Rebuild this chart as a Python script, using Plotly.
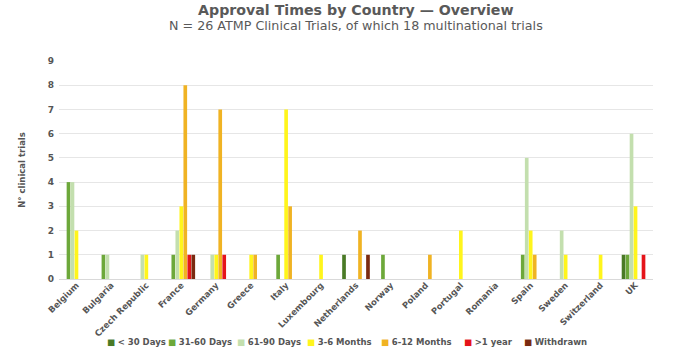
import plotly.graph_objects as go

countries = ["Belgium", "Bulgaria", "Czech Republic", "France", "Germany", "Greece", "Italy",
             "Luxembourg", "Netherlands", "Norway", "Poland", "Portugal", "Romania", "Spain",
             "Sweden", "Switzerland", "UK"]

lt30 = [0, 0, 0, 0, 0, 0, 0, 0, 1, 0, 0, 0, 0, 0, 0, 0, 1]
d31_60 = [4, 1, 0, 1, 0, 0, 1, 0, 0, 1, 0, 0, 0, 1, 0, 0, 1]
d61_90 = [4, 1, 1, 2, 1, 0, 0, 0, 0, 0, 0, 0, 0, 5, 2, 0, 6]
m3_6 = [2, 0, 1, 3, 1, 1, 7, 1, 0, 0, 0, 2, 0, 2, 1, 1, 3]
m6_12 = [0, 0, 0, 8, 7, 1, 3, 0, 2, 0, 1, 0, 0, 1, 0, 0, 0]
gt1y = [0, 0, 0, 1, 1, 0, 0, 0, 0, 0, 0, 0, 0, 0, 0, 0, 1]
withdrawn = [0, 0, 0, 1, 0, 0, 0, 0, 1, 0, 0, 0, 0, 0, 0, 0, 0]

series_names = ["< 30 Days", "31-60 Days", "61-90 Days", "3-6 Months", "6-12 Months", ">1 year", "Withdrawn"]
series_values = [lt30, d31_60, d61_90, m3_6, m6_12, gt1y, withdrawn]
colors = ["#4A7A26", "#6DA83A", "#C3DFAE", "#FFF51C", "#F0B323", "#E5141A", "#7A2A10"]

y_ticks = [0, 1, 2, 3, 4, 5, 6, 7, 8, 9]

FONT = "DejaVu Sans"
GRAY = "#555555"

W, H = 680, 352
ML, MR, MT, MB = 59, 27, 61, 73
PW, PH = W - ML - MR, H - MT - MB


def px_x(px):
    return (px - ML) / PW


def px_y(py):
    return (H - MB - py) / PH


fig = go.Figure()
for name, vals, col in zip(series_names, series_values, colors):
    fig.add_trace(go.Bar(
        x=countries, y=vals, name=name, showlegend=False,
        marker=dict(color=col, line=dict(width=0)),
    ))

# compact legend row (swatch + label), laid out like the reference
legend_left_px = [105, 166, 235, 305, 379, 462, 522]
annotations = []
for name, col, lx in zip(series_names, colors, legend_left_px):
    label = name.replace("<", "&lt;").replace(">", "&gt;")
    annotations.append(dict(
        text=f"<span style='color:{col}'>■</span> <b>{label}</b>",
        x=px_x(lx), y=px_y(342), xref="paper", yref="paper",
        xanchor="left", yanchor="middle", showarrow=False,
        font=dict(family=FONT, size=8.5, color=GRAY),
    ))

annotations += [
    dict(text="<b>Approval Times by Country — Overview</b>", x=0.5, y=px_y(10.5), xref="paper",
         yref="paper", xanchor="center", yanchor="middle", showarrow=False,
         font=dict(family=FONT, size=14.2, color="#595959")),
    dict(text="N = 26 ATMP Clinical Trials, of which 18 multinational trials", x=0.5, y=px_y(25.5),
         xref="paper", yref="paper", xanchor="center", yanchor="middle", showarrow=False,
         font=dict(family=FONT, size=12.7, color="#595959")),
]

fig.update_layout(
    width=W, height=H,
    barmode="group", bargap=0.2, bargroupgap=0.08,
    plot_bgcolor="white", paper_bgcolor="white",
    margin=dict(l=ML, r=MR, t=MT, b=MB),
    font=dict(family=FONT, color=GRAY),
    showlegend=False,
    annotations=annotations,
)

fig.update_xaxes(
    type="category", tickangle=-45, showgrid=False, automargin=False,
    ticklabeloverflow="allow", ticklabelstandoff=-3,
    showline=True, linecolor="#D9D9D9", linewidth=1,
    tickfont=dict(family=FONT, size=8.5, color=GRAY, weight="bold"),
    ticks="", range=[-0.5, 16.5],
)
fig.update_yaxes(
    range=[0, 9], tickvals=y_ticks, showgrid=True, gridcolor="#E6E6E6", gridwidth=1,
    zeroline=True, zerolinecolor="#D9D9D9", zerolinewidth=1, automargin=False,
    ticks="", ticklabelstandoff=4,
    tickfont=dict(family=FONT, size=9, color=GRAY, weight="bold"),
    title=dict(text="N° clinical trials", font=dict(family=FONT, size=8.5, color=GRAY, weight="bold"),
               standoff=20),
)

fig.write_html("out.html")
